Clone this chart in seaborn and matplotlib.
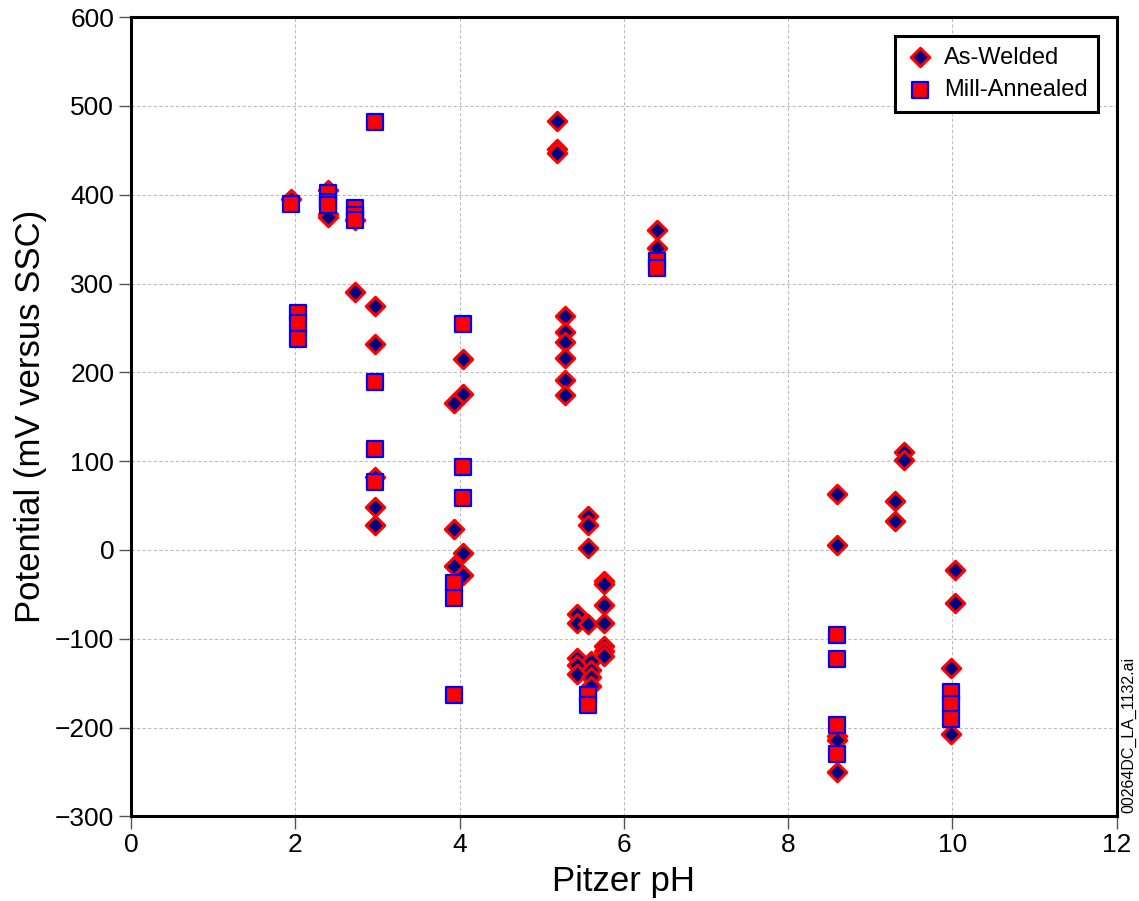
import matplotlib
matplotlib.use("Agg")
import matplotlib.pyplot as plt
import seaborn as sns
import pandas as pd

# As-Welded specimens: Pitzer pH and potential (mV vs SSC)
aw_ph = [1.95,
         2.40, 2.40, 2.40,
         2.73, 2.73,
         2.97, 2.97, 2.97, 2.97, 2.97,
         4.04, 4.04, 3.93, 3.93, 3.93, 4.04, 4.04,
         5.18, 5.18, 5.18,
         5.28, 5.28, 5.28, 5.28, 5.28, 5.28,
         5.56, 5.56, 5.56,
         5.43, 5.43, 5.56,
         5.76, 5.76, 5.76, 5.76, 5.76, 5.76, 5.76,
         5.43, 5.43, 5.43, 5.60, 5.60, 5.60, 5.60,
         6.40, 6.40,
         8.60, 8.60, 8.60, 8.60, 8.60,
         9.30, 9.30,
         9.41, 9.41,
         10.03, 10.03,
         9.98, 9.98]
aw_mv = [395,
         405, 378, 375,
         372, 290,
         275, 232, 82, 48, 28,
         215, 176, 166, 23, -18, -3, -28,
         483, 452, 447,
         263, 245, 234, 216, 191, 174,
         38, 28, 2,
         -72, -82, -83,
         -35, -38, -62, -82, -108, -114, -120,
         -122, -130, -140, -125, -135, -143, -153,
         360, 340,
         63, 5, -210, -214, -250,
         55, 32,
         110, 101,
         -23, -60,
         -133, -207]

# Mill-Annealed specimens
ma_ph = [1.95,
         2.03, 2.03, 2.03,
         2.40, 2.40, 2.40,
         2.73, 2.73, 2.73,
         2.97, 2.97, 2.97, 2.97,
         4.04, 4.04, 4.04,
         3.93, 3.93, 3.93,
         5.56, 5.56,
         6.40, 6.40,
         8.60, 8.60, 8.60, 8.60,
         9.98, 9.98, 9.98]
ma_mv = [389,
         267, 255, 238,
         402, 392, 388,
         385, 377, 372,
         482, 189, 114, 76,
         254, 93, 58,
         -37, -54, -163,
         -163, -175,
         325, 317,
         -96, -123, -197, -230,
         -160, -174, -190]

x_ticks = [0, 2, 4, 6, 8, 10, 12]
y_ticks = [-300, -200, -100, 0, 100, 200, 300, 400, 500, 600]

sns.set_style("white")
plt.rcParams["font.family"] = ["Liberation Sans", "DejaVu Sans"]
plt.rcParams["axes.unicode_minus"] = True
plt.rcParams["text.color"] = "black"
plt.rcParams["axes.labelcolor"] = "black"
plt.rcParams["xtick.color"] = "black"
plt.rcParams["ytick.color"] = "black"

aw = pd.DataFrame({"Pitzer pH": aw_ph, "Potential": aw_mv})
ma = pd.DataFrame({"Pitzer pH": ma_ph, "Potential": ma_mv})

fig = plt.figure(figsize=(11.39, 9.01), dpi=100)
ax = fig.add_axes([0.115, 0.094, 0.8655, 0.887])

sns.scatterplot(data=aw, x="Pitzer pH", y="Potential", ax=ax,
                marker="D", s=88, color="#000080", edgecolor="#ff0000",
                linewidth=2.2, label="As-Welded", zorder=3)
sns.scatterplot(data=ma, x="Pitzer pH", y="Potential", ax=ax,
                marker="s", s=125, color="#ff0000", edgecolor="#0000ff",
                linewidth=1.6, label="Mill-Annealed", zorder=4)

ax.set_xlim(0, 12)
ax.set_ylim(-300, 600)
ax.set_xticks(x_ticks)
ax.set_yticks(y_ticks)
ax.grid(True, color="#bdbdbd", linestyle=(0, (3, 2)), linewidth=0.8)
ax.set_axisbelow(True)

for sp in ax.spines.values():
    sp.set_color("black")
    sp.set_linewidth(2.2)

ax.tick_params(axis="both", direction="out", length=9, width=1.0,
               color="#555555", labelcolor="black", labelsize=19, pad=3,
               bottom=True, left=True)

ax.set_xlabel("Pitzer pH", fontsize=25, labelpad=6)
ax.set_ylabel("Potential (mV versus SSC)", fontsize=25, labelpad=6)

leg = ax.legend(loc="upper right", fontsize=17, frameon=True, fancybox=False,
                framealpha=1.0, borderaxespad=0.8, handletextpad=0.4,
                borderpad=0.45, labelspacing=0.45, handlelength=1.2,
                markerscale=1.0)
leg.get_frame().set_edgecolor("black")
leg.get_frame().set_linewidth(2.2)
for t in leg.get_texts():
    t.set_color("black")

fig.text(0.991, 0.184, "00264DC_LA_1132.ai", rotation=90, fontsize=11.5,
         ha="center", va="center")

fig.savefig("out.png", dpi=100)
